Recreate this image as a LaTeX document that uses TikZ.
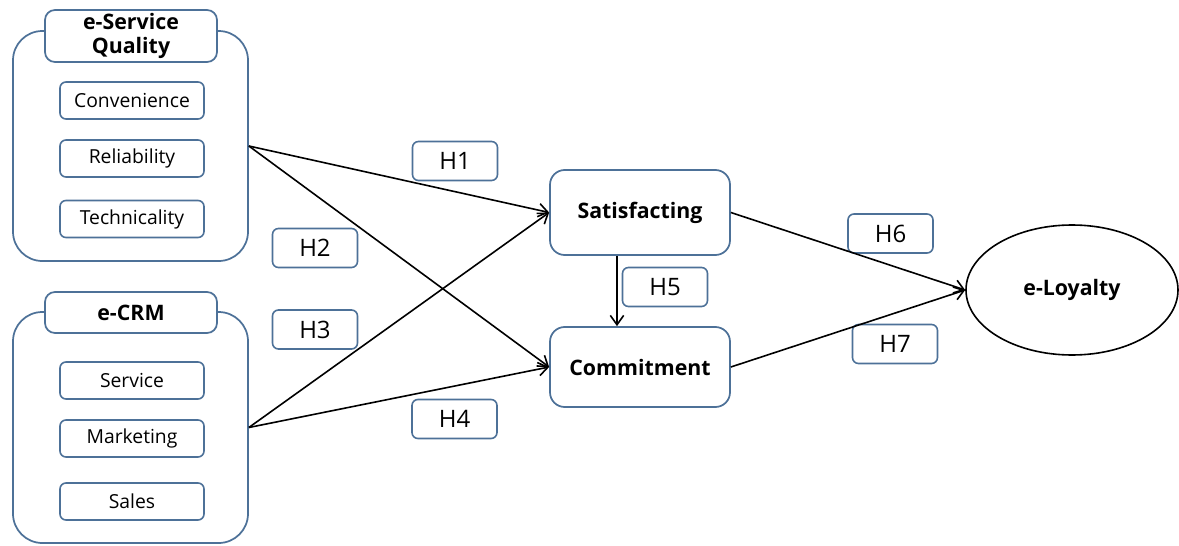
\documentclass[tikz,border=0pt]{standalone}
\usepackage{fontspec}
\setmainfont{Open Sans}
\usetikzlibrary{arrows.meta,shapes.geometric}
\definecolor{bord}{HTML}{4D7198}
\begin{document}
\begin{tikzpicture}[x=0.75pt,y=-0.75pt,
  group/.style={draw=bord,line width=1.3pt,fill=white,rounded corners=22pt,minimum width=176.25pt,inner sep=0pt},
  head/.style={draw=bord,line width=1.3pt,fill=white,rounded corners=7.5pt,minimum width=129pt,inner sep=0pt,align=center,font=\fontsize{16}{17.5}\selectfont\bfseries},
  item/.style={draw=bord,line width=1.2pt,fill=white,rounded corners=4.5pt,minimum width=108pt,minimum height=27.75pt,inner sep=0pt,font=\fontsize{14.5}{16}\selectfont},
  cons/.style={draw=bord,line width=1.3pt,fill=white,rounded corners=11pt,minimum width=135pt,inner sep=0pt,font=\fontsize{16}{18}\selectfont\bfseries},
  hyp/.style={draw=bord,line width=1.2pt,fill=white,rounded corners=4.5pt,minimum width=63.75pt,minimum height=29.25pt,inner sep=0pt,font=\fontsize{18}{20}\selectfont},
  arr/.style={line width=1.2pt,-{Straight Barb[length=7pt,width=10pt,line width=1.2pt]}}
]
\useasboundingbox (0,0) rectangle (1179,546);
% groups
\node[group,minimum height=172.5pt] (q1) at (130.5,146) {};
\node[head,minimum height=39pt] (q1h) at (131,36) {e-Service\\Quality};
\node[item] (conv) at (132,100.5) {Convenience};
\node[item] (reli) at (132,158.5) {Reliability};
\node[item] (tech) at (132,219) {Technicality};
\node[group,minimum height=173.25pt] (q2) at (130.5,427.5) {};
\node[head,minimum height=30.75pt] (q2h) at (131,312.5) {e-CRM};
\node[item] (serv) at (132,380.5) {Service};
\node[item] (mark) at (132,438.5) {Marketing};
\node[item] (sale) at (132,501.5) {Sales};
% constructs
\node[cons,minimum height=63.75pt] (sat) at (640,212.5) {Satisfacting};
\node[cons,minimum height=60pt] (com) at (640,367) {Commitment};
\node[ellipse,draw=black,line width=1.2pt,minimum width=159pt,minimum height=97.5pt,inner sep=0pt,font=\fontsize{16}{18}\selectfont\bfseries] (loy) at (1072,290) {e-Loyalty};
% hypotheses
\node[hyp] (h1) at (455,161) {H1};
\node[hyp] (h2) at (315,248) {H2};
\node[hyp] (h3) at (315,329.5) {H3};
\node[hyp] (h4) at (454.5,419) {H4};
\node[hyp] (h5) at (665,287) {H5};
\node[hyp] (h6) at (890.5,233.5) {H6};
\node[hyp] (h7) at (895,344) {H7};
% arrows
\draw[arr] (q1.east) -- (sat.west);
\draw[arr] (q1.east) -- (com.west);
\draw[arr] (q2.east) -- (sat.west);
\draw[arr] (q2.east) -- (com.west);
\draw[arr] ([xshift=-17.25pt]sat.south) -- ([xshift=-17.25pt]com.north);
\draw[arr] (sat.east) -- (loy.west);
\draw[arr] (com.east) -- (loy.west);
\end{tikzpicture}
\end{document}
